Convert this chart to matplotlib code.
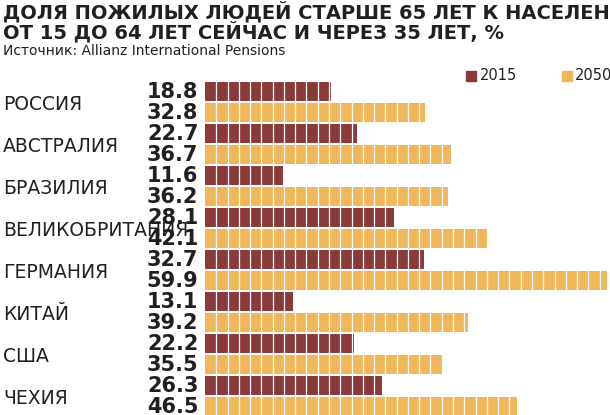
import matplotlib.pyplot as plt
import numpy as np

countries = ['РОССИЯ', 'АВСТРАЛИЯ', 'БРАЗИЛИЯ', 'ВЕЛИКОБРИТАНИЯ', 'ГЕРМАНИЯ', 'КИТАЙ', 'США', 'ЧЕХИЯ']
v2015 = [18.8, 22.7, 11.6, 28.1, 32.7, 13.1, 22.2, 26.3]
v2050 = [32.8, 36.7, 36.2, 42.1, 59.9, 39.2, 35.5, 46.5]

c15 = '#8b3a3a'
c50 = '#f0b65a'
txt = '#231f20'
narrow = ['Liberation Sans Narrow', 'DejaVu Sans']

fig = plt.figure(figsize=(6.1, 4.15), dpi=100)
ax = fig.add_axes([205 / 610, 0, 402 / 610, 334 / 415])

y = np.arange(len(countries))
ax.barh(y - 0.25, v2015, height=0.47, color=c15, edgecolor='none')
ax.barh(y + 0.25, v2050, height=0.47, color=c50, edgecolor='none')

# белые полоски поверх баров
for xv in np.arange(1.68, 61, 1.68):
    ax.axvline(xv, color='white', linewidth=0.9, zorder=3)

ax.set_xlim(0, 59.9)
ax.set_ylim(7.45, -0.5)
ax.axis('off')

for i, name in enumerate(countries):
    ax.text(-1.0, i - 0.24, f'{v2015[i]:.1f}', ha='right', va='center',
            fontsize=15, fontweight='bold', color=txt, clip_on=False, family=narrow)
    ax.text(-1.0, i + 0.26, f'{v2050[i]:.1f}', ha='right', va='center',
            fontsize=15, fontweight='bold', color=txt, clip_on=False, family=narrow)
    fig.text(3 / 610, 1 - (104 + 42.1 * i) / 415, name, ha='left', va='center',
             fontsize=13.5, color=txt, family=narrow)

fig.text(3 / 610, 1 - 12 / 415, 'ДОЛЯ ПОЖИЛЫХ ЛЮДЕЙ СТАРШЕ 65 ЛЕТ К НАСЕЛЕНИЮ',
         fontsize=14, fontweight='bold', color=txt, va='center', family=narrow)
fig.text(3 / 610, 1 - 32 / 415, 'ОТ 15 ДО 64 ЛЕТ СЕЙЧАС И ЧЕРЕЗ 35 ЛЕТ, %',
         fontsize=14, fontweight='bold', color=txt, va='center', family=narrow)
fig.text(3 / 610, 1 - 51 / 415, 'Источник: Allianz International Pensions',
         fontsize=10, color=txt, va='center')

fig.patches.append(plt.Rectangle((466 / 610, 1 - 81 / 415), 10 / 610, 10 / 415,
                                 transform=fig.transFigure, color=c15))
fig.text(480 / 610, 1 - 76 / 415, '2015', fontsize=10.5, color=txt, va='center')
fig.patches.append(plt.Rectangle((562 / 610, 1 - 81 / 415), 10 / 610, 10 / 415,
                                 transform=fig.transFigure, color=c50))
fig.text(575 / 610, 1 - 76 / 415, '2050', fontsize=10.5, color=txt, va='center')

fig.savefig('out.png', dpi=100)
